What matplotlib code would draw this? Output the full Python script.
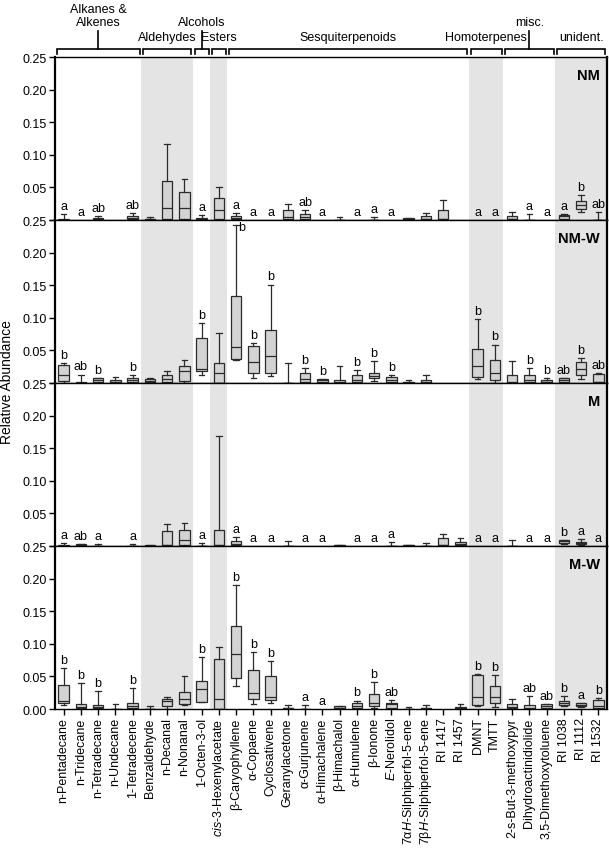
import numpy as np
import matplotlib
matplotlib.use("Agg")
import matplotlib.pyplot as plt
from matplotlib.transforms import blended_transform_factory

plt.rcParams["font.family"] = ["Liberation Sans", "DejaVu Sans"]
plt.rcParams["mathtext.fontset"] = "custom"
plt.rcParams["mathtext.rm"] = "Liberation Sans"
plt.rcParams["mathtext.it"] = "Liberation Sans:italic"

compounds = [
    "n-Pentadecane", "n-Tridecane", "n-Tetradecane", "n-Undecane", "1-Tetradecene",
    "Benzaldehyde", "n-Decanal", "n-Nonanal", "1-Octen-3-ol",
    r"$\it{cis}$-3-Hexenylacetate",
    "β-Caryophyllene", "α-Copaene", "Cyclosativene", "Geranylacetone", "α-Gurjunene",
    "α-Himachalene", "β-Himachalol", "α-Humulene", "β-Ionone", r"$\it{E}$-Nerolidol",
    r"7α$\it{H}$-Silphiperfol-5-ene", r"7β$\it{H}$-Silphiperfol-5-ene", "RI 1417", "RI 1457",
    "DMNT", "TMTT", "2-s-But-3-methoxypyr", "Dihydroactinidiolide", "3,5-Dimethoxytoluene",
    "RI 1038", "RI 1112", "RI 1532",
]

# compound class groups (first, last position, 1-based)
group_names = ["Alkanes &\nAlkenes", "Aldehydes", "Alcohols", "Esters",
               "Sesquiterpenoids", "Homoterpenes", "misc.", "unident."]
group_first = [1, 6, 9, 10, 11, 25, 27, 30]
group_last = [5, 8, 9, 10, 24, 26, 29, 32]
shaded_groups = ["Aldehydes", "Esters", "Homoterpenes", "unident."]

panels = ["NM", "NM-W", "M", "M-W"]

N = None
# ---- NM
nm_lo = [0, N, 0, N, 0, 0, 0, 0, 0, 0, 0, N, N, 0, 0, N, 0, N, 0, N, 0, 0, 0, N, N, N, 0, 0, N, 0, 0.012, 0]
nm_q1 = [0, N, 0.001, N, 0.001, 0, 0.001, 0.001, 0.001, 0.001, 0.001, N, N, 0.001, 0.001, N, 0, N, 0, N, 0.0005, 0.001, 0.001, N, N, N, 0.001, 0, N, 0.001, 0.017, 0]
nm_med = [0, N, 0.002, N, 0.003, 0.001, 0.019, 0.019, 0.002, 0.016, 0.003, N, N, 0.005, 0.004, N, 0, N, 0, N, 0.001, 0.002, 0.002, N, N, N, 0.002, 0, N, 0.006, 0.0235, 0]
nm_q3 = [0.001, N, 0.003, N, 0.006, 0.002, 0.060, 0.043, 0.0036, 0.033, 0.006, N, N, 0.016, 0.009, N, 0, N, 0, N, 0.0025, 0.006, 0.015, N, N, N, 0.0057, 0, N, 0.008, 0.0296, 0]
nm_hi = [0.009, N, 0.006, N, 0.010, 0.004, 0.116, 0.063, 0.007, 0.050, 0.010, N, N, 0.024, 0.015, N, 0.004, N, 0.004, N, 0.003, 0.011, 0.030, N, N, N, 0.012, 0.009, N, 0.009, 0.038, 0.012]
nm_let = ["a", "a", "ab", "", "ab", "", "", "", "a", "", "a", "a", "a", "", "ab", "a",
          "", "a", "a", "a", "", "", "", "", "a", "a", "", "a", "a", "a", "b", "ab"]

# ---- NM-W
nmw_lo = [0, 0, 0, 0, 0, 0, 0, 0, 0.013, 0, 0.0357, 0.0077, 0.011, 0, 0, 0, 0, 0, 0.003, 0, 0, 0, N, N, 0.0066, 0, 0, 0, 0, 0, 0.006, 0]
nmw_q1 = [0.0035, 0, 0.002, 0.001, 0.002, 0.001, 0.002, 0.0035, 0.019, 0, 0.037, 0.0147, 0.0147, 0, 0.001, 0.001, 0, 0.002, 0.007, 0.001, 0, 0, N, N, 0.010, 0.005, 0, 0.001, 0.001, 0.002, 0.0127, 0.001]
nmw_med = [0.0127, 0.0005, 0.004, 0.002, 0.005, 0.003, 0.006, 0.019, 0.022, 0.015, 0.0557, 0.032, 0.041, 0, 0.006, 0.004, 0.001, 0.004, 0.011, 0.005, 0.001, 0.001, N, N, 0.026, 0.0147, 0.001, 0.005, 0.002, 0.005, 0.021, 0.002]
nmw_q3 = [0.028, 0.001, 0.007, 0.004, 0.008, 0.006, 0.0127, 0.026, 0.0695, 0.030, 0.134, 0.0567, 0.081, 0, 0.015, 0.0066, 0.004, 0.0117, 0.015, 0.009, 0.0015, 0.004, N, N, 0.0516, 0.035, 0.0127, 0.0117, 0.005, 0.008, 0.0327, 0.0134]
nmw_hi = [0.030, 0.013, 0.008, 0.009, 0.0117, 0.007, 0.0178, 0.035, 0.0915, 0.077, 0.243, 0.061, 0.151, 0.031, 0.023, 0.0066, 0.026, 0.020, 0.034, 0.0127, 0.005, 0.013, N, N, 0.098, 0.059, 0.034, 0.0234, 0.007, 0.008, 0.039, 0.016]
nmw_let = ["b", "ab", "b", "", "b", "", "", "", "b", "", "b", "b", "b", "", "b", "b",
           "", "b", "b", "b", "", "", "", "", "b", "b", "", "b", "b", "ab", "b", "ab"]

# ---- M
m_lo = [0, 0, 0, N, 0, 0, 0, 0, 0, 0, 0, N, N, 0, N, N, 0, N, N, 0, 0, 0, 0, 0, N, N, 0, N, N, 0.003, 0.002, N]
m_q1 = [0, 0, 0, N, 0, 0, 0.001, 0.001, 0, 0.001, 0.001, N, N, 0, N, N, 0, N, N, 0, 0, 0, 0.001, 0.001, N, N, 0, N, N, 0.004, 0.0036, N]
m_med = [0.0005, 0.002, 0, N, 0, 0, 0.002, 0.0087, 0, 0.002, 0.003, N, N, 0, N, N, 0.001, N, N, 0, 0.001, 0, 0.002, 0.0025, N, N, 0, N, N, 0.007, 0.005, N]
m_q3 = [0.0015, 0.0036, 0, N, 0, 0.001, 0.0225, 0.024, 0, 0.025, 0.007, N, N, 0, N, N, 0.002, N, N, 0, 0.002, 0, 0.0128, 0.0056, N, N, 0, N, N, 0.0087, 0.0066, N]
m_hi = [0.005, 0.0036, 0.003, N, 0.003, 0.002, 0.034, 0.036, 0.004, 0.169, 0.0138, N, N, 0.008, N, N, 0.002, N, N, 0.0066, 0.002, 0.005, 0.019, 0.0118, N, N, 0.0087, N, N, 0.0087, 0.0107, N]
m_let = ["a", "ab", "a", "", "a", "", "", "", "a", "", "a", "a", "a", "", "a", "a",
         "", "a", "a", "a", "", "", "", "", "a", "a", "", "a", "a", "b", "a", "a"]

# ---- M-W
mw_lo = [0.006, 0, 0, 0, 0, 0, 0, 0.006, 0.011, 0, 0.0357, 0.0077, 0.009, 0, 0, N, 0, 0, 0.002, 0, 0, 0, N, 0, 0.005, 0.003, 0, 0, 0, 0.004, 0.003, 0]
mw_q1 = [0.0086, 0.001, 0.001, 0, 0.001, 0, 0.004, 0.007, 0.0112, 0, 0.0475, 0.0147, 0.0133, 0, 0, N, 0.001, 0.002, 0.004, 0.001, 0, 0, N, 0, 0.0056, 0.009, 0.001, 0, 0.001, 0.006, 0.004, 0.001]
mw_med = [0.0123, 0.003, 0.003, 0, 0.0046, 0, 0.0118, 0.0158, 0.0307, 0.0153, 0.085, 0.0245, 0.018, 0.001, 0, N, 0.002, 0.005, 0.009, 0.007, 0, 0.001, N, 0.001, 0.0189, 0.0184, 0.003, 0.002, 0.004, 0.009, 0.006, 0.004]
mw_q3 = [0.037, 0.007, 0.006, 0, 0.010, 0, 0.015, 0.0255, 0.0423, 0.076, 0.127, 0.060, 0.051, 0.002, 0, N, 0.0046, 0.0092, 0.023, 0.0092, 0, 0.002, N, 0.003, 0.0516, 0.0353, 0.0077, 0.0066, 0.007, 0.0118, 0.0087, 0.014]
mw_hi = [0.063, 0.040, 0.028, 0.0077, 0.032, 0.0046, 0.018, 0.0506, 0.080, 0.095, 0.190, 0.087, 0.073, 0.0056, 0.006, N, 0.0046, 0.013, 0.041, 0.0133, 0.003, 0.006, N, 0.007, 0.053, 0.0516, 0.0153, 0.020, 0.008, 0.0204, 0.0087, 0.0163]
mw_let = ["b", "b", "b", "", "b", "", "", "", "b", "", "b", "b", "b", "", "a", "a",
          "", "b", "b", "ab", "", "", "", "", "b", "b", "", "ab", "ab", "b", "a", "b"]

panel_data = [
    (nm_lo, nm_q1, nm_med, nm_q3, nm_hi, nm_let),
    (nmw_lo, nmw_q1, nmw_med, nmw_q3, nmw_hi, nmw_let),
    (m_lo, m_q1, m_med, m_q3, m_hi, m_let),
    (mw_lo, mw_q1, mw_med, mw_q3, mw_hi, mw_let),
]

dark = "#2b2b2b"
box_fill = "#d3d3d3"
shade = "#e4e4e4"

fig = plt.figure(figsize=(6.09, 8.53), dpi=100)
axes = fig.subplots(4, 1, sharex=True, gridspec_kw=dict(hspace=0))
fig.subplots_adjust(left=0.0903, right=0.9967, top=0.932, bottom=0.1676)

positions = np.arange(1, len(compounds) + 1)

for k, ax in enumerate(axes):
    lo, q1, med, q3, hi, let = panel_data[k]

    # shaded compound classes
    for name, a, b in zip(group_names, group_first, group_last):
        if name in shaded_groups:
            ax.axvspan(a - 0.5, b + 0.5, color=shade, lw=0, zorder=0)

    stats = []
    pos = []
    for i in range(len(compounds)):
        if lo[i] is None:
            continue
        stats.append(dict(whislo=lo[i], q1=q1[i], med=med[i], q3=q3[i], whishi=hi[i]))
        pos.append(positions[i])

    ax.bxp(stats, positions=pos, widths=0.62, capwidths=0.32, patch_artist=True,
           showfliers=False, manage_ticks=False,
           boxprops=dict(facecolor=box_fill, edgecolor=dark, linewidth=0.9),
           medianprops=dict(color=dark, linewidth=0.9),
           whiskerprops=dict(color=dark, linewidth=0.9),
           capprops=dict(color=dark, linewidth=0.9), zorder=2)

    # significance letters
    for i, l in enumerate(let):
        if not l:
            continue
        y = hi[i] if hi[i] is not None else 0
        if y > 0.22:
            ax.annotate(l, (positions[i], 0.25), xytext=(4, -1), textcoords="offset points",
                        ha="center", va="top", fontsize=9)
        else:
            ax.annotate(l, (positions[i], y), xytext=(0, 1.5), textcoords="offset points",
                        ha="center", va="bottom", fontsize=9)

    ax.set_xlim(0.5, 32.5)
    ax.set_ylim(0, 0.25)
    yt = np.arange(0, 0.26, 0.05)
    ax.set_yticks(yt)
    labs = ["%.2f" % v for v in yt]
    if k < 3:
        labs[0] = ""
    ax.set_yticklabels(labs)
    ax.tick_params(axis="y", direction="out", length=4, width=1, labelsize=9, pad=2)

    for side in ["left", "right"]:
        ax.spines[side].set_linewidth(1.6)
    for side in ["top", "bottom"]:
        ax.spines[side].set_linewidth(1.0)

    ax.text(0.987, 0.93, panels[k], transform=ax.transAxes, ha="right", va="top",
            fontsize=10.5, fontweight="bold")

    if k < 3:
        ax.tick_params(axis="x", bottom=False)

axes[-1].set_xticks(positions)
axes[-1].set_xticklabels(compounds, rotation=90, fontsize=9)
axes[-1].tick_params(axis="x", direction="out", length=4, width=1, pad=2)

fig.text(0.0115, 0.552, "Relative Abundance", rotation=90, ha="center", va="center", fontsize=10)

# group brackets above the top panel
H = 853.0
trans = blended_transform_factory(axes[0].transData, fig.transFigure)
y_bar = 1 - 50 / H
y_tick = 1 - 55 / H
y_stem = 1 - 32 / H
stem_groups = ["Alkanes &\nAlkenes", "Alcohols", "misc."]
for name, a, b in zip(group_names, group_first, group_last):
    x0, x1 = a - 0.4, b + 0.4
    axes[0].plot([x0, x0, x1, x1], [y_tick, y_bar, y_bar, y_tick], color="k", lw=1.2,
                 transform=trans, clip_on=False, solid_joinstyle="miter")
    xc = (a + b) / 2
    if name in stem_groups:
        axes[0].plot([xc, xc], [y_bar, y_stem], color="k", lw=1.2, transform=trans, clip_on=False)
        axes[0].text(xc, 1 - 29 / H, name, transform=trans, ha="center", va="bottom",
                     fontsize=9, linespacing=1.15)
    else:
        axes[0].text(xc, 1 - 38 / H, name, transform=trans, ha="center", va="center", fontsize=9)

fig.savefig("out.png", dpi=100)
